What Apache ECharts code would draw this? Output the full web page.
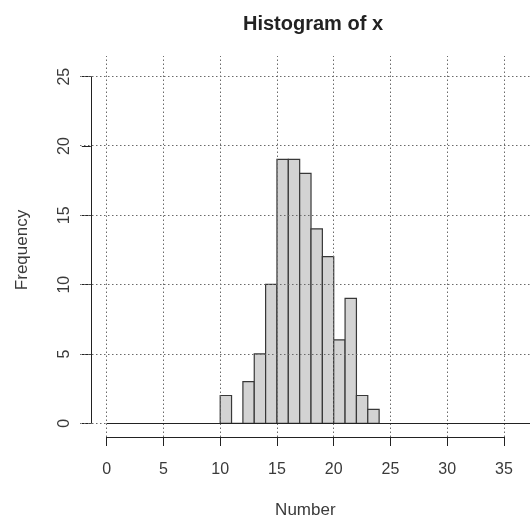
<!DOCTYPE html>
<html>
<head>
<meta charset="utf-8">
<script src="https://cdn.jsdelivr.net/npm/echarts@6/dist/echarts.min.js"></script>
<style>
html,body{margin:0;padding:0;background:#fff;}
#chart{width:530px;height:528px;}
</style>
</head>
<body>
<div id="chart"></div>
<script>
// Histogram data (bin edges and counts)
const binLeft  = [10, 11, 12, 13, 14, 15, 16, 17, 18, 19, 20, 21, 22, 23];
const binRight = [11, 12, 13, 14, 15, 16, 17, 18, 19, 20, 21, 22, 23, 24];
const counts   = [2, 0, 3, 5, 10, 19, 19, 18, 14, 12, 6, 9, 2, 1];
const xTicks = [0, 5, 10, 15, 20, 25, 30, 35];
const yTicks = [0, 5, 10, 15, 20, 25];
const titleText = 'Histogram of x';
const xName = 'Number';
const yName = 'Frequency';

const data = binLeft.map((l, i) => [l, binRight[i], counts[i]]);

const FONT = '"Liberation Sans", Arial, sans-serif';
const TXT = '#3a3a3a';

// Plot-region extents (extended beyond tick range like R's usr region)
const xMinExt = -2.35, xMaxExt = 37.29;
const yMinExt = -0.99, yMaxExt = 26.45;

const chart = echarts.init(document.getElementById('chart'), null, {renderer: 'canvas'});

const gridLineStyle = {color: '#6a6a6a', type: [1.5, 2.5], width: 1};

chart.setOption({
  animation: false,
  backgroundColor: '#fff',
  title: {
    text: titleText,
    left: 308, top: 9, textAlign: 'center',
    textStyle: {fontFamily: FONT, fontWeight: 'bold', fontSize: 20, color: '#222'}
  },
  grid: [
    {left: 80, right: 0, top: 56, bottom: 91},
    {left: 106.7, right: 26, bottom: 91, height: 1},
    {left: 90.8, width: 1, top: 76.7, bottom: 104.7}
  ],
  xAxis: [
    {gridIndex: 0, type: 'value', min: xMinExt, max: xMaxExt, show: false},
    {gridIndex: 1, type: 'value', min: 0, max: 35, interval: 5,
     axisLine: {show: true, lineStyle: {color: '#222', width: 1}},
     axisTick: {show: true, length: 9, lineStyle: {color: '#222'}},
     axisLabel: {fontFamily: FONT, fontSize: 16, color: TXT, margin: 25},
     splitLine: {show: false},
     name: xName, nameLocation: 'middle', nameGap: 65,
     nameTextStyle: {fontFamily: FONT, fontSize: 17, color: TXT}},
    {gridIndex: 2, type: 'value', show: false}
  ],
  yAxis: [
    {gridIndex: 0, type: 'value', min: yMinExt, max: yMaxExt, show: false},
    {gridIndex: 1, type: 'value', show: false},
    {gridIndex: 2, type: 'value', min: 0, max: 25, interval: 5,
     axisLine: {show: true, lineStyle: {color: '#222', width: 1}},
     axisTick: {show: true, length: 9, lineStyle: {color: '#222'}},
     axisLabel: {fontFamily: FONT, fontSize: 16, color: TXT, margin: 18, rotate: 90},
     splitLine: {show: false},
     name: yName, nameLocation: 'middle', nameGap: 60, nameRotate: 90,
     nameTextStyle: {fontFamily: FONT, fontSize: 17, color: TXT}}
  ],
  series: [
    {
      type: 'line', xAxisIndex: 0, yAxisIndex: 0, data: [], silent: true,
      markLine: {
        silent: true, symbol: ['none', 'none'], label: {show: false},
        lineStyle: gridLineStyle, animation: false,
        data: xTicks.map(v => ({xAxis: v})).concat(yTicks.map(v => ({yAxis: v})))
      }
    },
    {
      type: 'custom', xAxisIndex: 0, yAxisIndex: 0, data: data,
      encode: {x: [0, 1], y: 2},
      renderItem: function (params, api) {
        const p0 = api.coord([api.value(0), api.value(2)]);
        const p1 = api.coord([api.value(1), 0]);
        return {
          type: 'rect',
          shape: {x: p0[0], y: p0[1], width: p1[0] - p0[0], height: p1[1] - p0[1]},
          style: {fill: '#d3d3d3', stroke: '#383838', lineWidth: 1.2}
        };
      },
      markLine: {
        silent: true, symbol: ['none', 'none'], label: {show: false},
        lineStyle: {color: '#222', type: 'solid', width: 1}, animation: false,
        data: [[{coord: [xTicks[0], 0]}, {coord: [xMaxExt, 0]}]]
      }
    }
  ]
});
</script>
</body>
</html>
